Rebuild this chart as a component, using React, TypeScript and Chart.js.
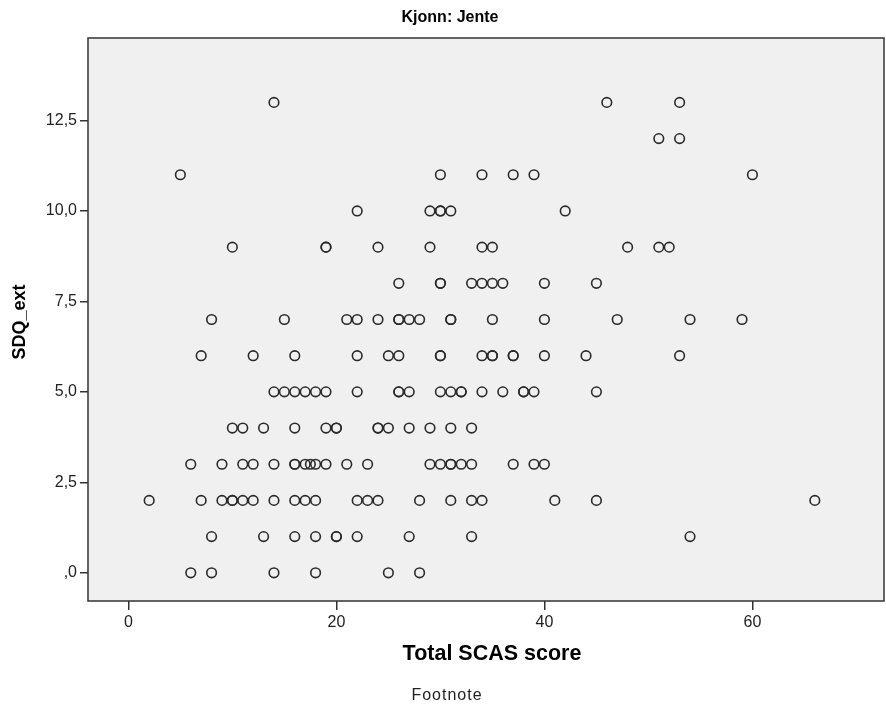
import React, { useEffect, useRef } from "react";
import { Chart, registerables } from "chart.js";

Chart.register(...registerables);

// SDQ_ext value per row and the Total SCAS scores observed at that value
const sdq13 = [14, 46, 53];
const sdq12 = [51, 53];
const sdq11 = [5, 30, 34, 37, 39, 60];
const sdq10 = [22, 29, 30, 30, 31, 42];
const sdq9 = [10, 19, 19, 24, 29, 34, 35, 48, 51, 52];
const sdq8 = [26, 30, 30, 33, 34, 35, 36, 40, 45];
const sdq7 = [8, 15, 21, 22, 24, 26, 26, 27, 28, 31, 31, 35, 40, 47, 54, 59];
const sdq6 = [7, 12, 16, 22, 25, 26, 30, 30, 34, 35, 35, 37, 37, 40, 44, 53];
const sdq5 = [14, 15, 16, 17, 18, 19, 22, 26, 26, 27, 30, 31, 32, 32, 34, 36, 38, 38, 39, 45];
const sdq4 = [10, 11, 13, 16, 19, 20, 20, 24, 24, 25, 27, 29, 31, 33];
const sdq3 = [6, 9, 11, 12, 14, 16, 16, 17, 17.5, 18, 19, 21, 23, 29, 30, 31, 31, 32, 33, 37, 39, 40];
const sdq2 = [2, 7, 9, 10, 10, 11, 12, 14, 16, 17, 18, 22, 23, 24, 28, 31, 33, 34, 41, 45, 66];
const sdq1 = [8, 13, 16, 18, 20, 20, 22, 27, 33, 54];
const sdq0 = [6, 8, 14, 18, 25, 28];

const rows: [number, number[]][] = [
  [13, sdq13], [12, sdq12], [11, sdq11], [10, sdq10], [9, sdq9], [8, sdq8], [7, sdq7],
  [6, sdq6], [5, sdq5], [4, sdq4], [3, sdq3], [2, sdq2], [1, sdq1], [0, sdq0],
];

const xTickValues = [0, 20, 40, 60];
const yTickValues = [0, 2.5, 5, 7.5, 10, 12.5];

const titleText = "Kjonn: Jente";
const xTitle = "Total SCAS score";
const yTitle = "SDQ_ext";
const footnote = "Footnote";

const FONT = "'Liberation Sans', Arial, sans-serif";

export default function App() {
  const ref = useRef<HTMLCanvasElement | null>(null);

  useEffect(() => {
    if (!ref.current) return;
    const points: { x: number; y: number }[] = [];
    rows.forEach(([y, xs]) => xs.forEach((x) => points.push({ x, y })));

    const decor = {
      id: "decor",
      beforeDraw(chart: any) {
        const { ctx, chartArea: a } = chart;
        ctx.save();
        ctx.fillStyle = "#ffffff";
        ctx.fillRect(0, 0, chart.width, chart.height);
        ctx.fillStyle = "#f0f0f0";
        ctx.fillRect(a.left, a.top, a.right - a.left, a.bottom - a.top);
        ctx.restore();
      },
      afterDraw(chart: any) {
        const { ctx, chartArea: a } = chart;
        ctx.save();
        ctx.strokeStyle = "#333333";
        ctx.lineWidth = 1.5;
        ctx.strokeRect(a.left, a.top, a.right - a.left, a.bottom - a.top);
        ctx.fillStyle = "#000000";
        ctx.textAlign = "center";
        ctx.textBaseline = "middle";
        ctx.font = `bold 16px ${FONT}`;
        ctx.fillText(titleText, 450, 18);
        ctx.font = `bold 21.5px ${FONT}`;
        ctx.fillText(xTitle, 492, 654);
        ctx.font = `16px ${FONT}`;
        ctx.fillStyle = "#222222";
        try { (ctx as any).letterSpacing = "1px"; } catch (e) {}
        ctx.fillText(footnote, 447, 696);
        try { (ctx as any).letterSpacing = "0px"; } catch (e) {}
        ctx.save();
        ctx.translate(20, 322);
        ctx.rotate(-Math.PI / 2);
        ctx.fillStyle = "#000000";
        ctx.font = `bold 18px ${FONT}`;
        ctx.fillText(yTitle, 0, 0);
        ctx.restore();
        ctx.restore();
      },
    };

    const chart = new Chart(ref.current, {
      type: "scatter",
      data: {
        datasets: [
          {
            data: points,
            pointRadius: 4.8,
            pointHoverRadius: 4.8,
            borderWidth: 1.6,
            borderColor: "#2a2a2a",
            backgroundColor: "rgba(0,0,0,0)",
          },
        ],
      },
      options: {
        responsive: false,
        animation: false,
        layout: { autoPadding: false, padding: { top: 38, right: 2, left: 0, bottom: 0 } },
        plugins: { legend: { display: false }, tooltip: { enabled: false }, title: { display: false } },
        scales: {
          x: {
            type: "linear",
            min: -3.88,
            max: 72.65,
            border: { display: false },
            grid: { drawOnChartArea: false, drawTicks: true, tickLength: 9, color: "#333333", lineWidth: 1.5 },
            ticks: {
              padding: 3,
              color: "#222222",
              font: { family: FONT, size: 16 },
              callback: (v: any) => String(v),
            },
            afterBuildTicks: (s: any) => {
              s.ticks = xTickValues.map((v) => ({ value: v }));
            },
            afterFit: (s: any) => {
              s.height = 105;
              s.paddingLeft = 0;
              s.paddingRight = 0;
            },
          },
          y: {
            type: "linear",
            min: -0.78,
            max: 14.78,
            border: { display: false },
            grid: { drawOnChartArea: false, drawTicks: true, tickLength: 8, color: "#333333", lineWidth: 1.5 },
            ticks: {
              padding: 3,
              color: "#222222",
              font: { family: FONT, size: 16 },
              callback: (v: any) => (v === 0 ? ",0" : Number(v).toFixed(1).replace(".", ",")),
            },
            afterBuildTicks: (s: any) => {
              s.ticks = yTickValues.map((v) => ({ value: v }));
            },
            afterFit: (s: any) => {
              s.width = 88;
              s.paddingTop = 0;
              s.paddingBottom = 0;
            },
          },
        },
      },
      plugins: [decor],
    });
    return () => chart.destroy();
  }, []);

  return (
    <div style={{ position: "fixed", left: 0, top: 0, width: 886, height: 706, background: "#fff" }}>
      <canvas ref={ref} width={886} height={706} style={{ display: "block" }} />
    </div>
  );
}
